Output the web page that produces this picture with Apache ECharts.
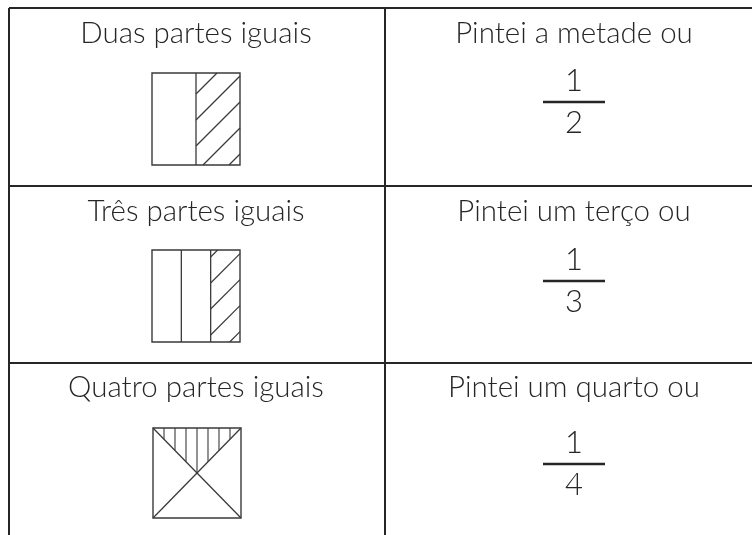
<!DOCTYPE html>
<html>
<head>
<meta charset="utf-8">
<script src="https://cdn.jsdelivr.net/npm/echarts@6/dist/echarts.min.js"></script>
<style>
html,body{margin:0;padding:0;background:#fff;}
#chart{width:752px;height:535px;}
</style>
</head>
<body>
<div id="chart"></div>
<script>
// ---- data ----
const leftLabels = ['Duas partes iguais', 'Três partes iguais', 'Quatro partes iguais'];
const rightLabels = ['Pintei a metade ou', 'Pintei um terço ou', 'Pintei um quarto ou'];
const numerators = [1, 1, 1];
const denominators = [2, 3, 4];
const partitionKinds = ['columns', 'columns', 'triangles'];
const shadedParts = [1, 1, 1];

// ---- layout (pixels in a 752x535 data space) ----
const L = {
  tableLeft: 9, tableRight: 752, midX: 385, bottom: 535,
  rowTops: [8, 186, 363],
  textDy: [25, 25, 24],
  leftCx: 196, rightCx: 574,
  boxX: [152, 152, 153], boxY: [73, 250, 428], boxW: 88, boxH: [92, 92, 90],
  barY: [102, 281, 464], barHalf: 31, numDy: -21, denDy: 21,
  hatchGap: 26, hatchPhase: [21, 7], vGap: 11
};
const ink = '#262626';
const boxInk = '#3a3a3a';
const font = 'Lato, "Open Sans", sans-serif';

function renderRow(params, api) {
  const i = api.value(0);
  const n = leftLabels.length;
  const top = L.rowTops[i];
  const bot = i < n - 1 ? L.rowTops[i + 1] : L.bottom;
  const P = (x, y) => api.coord([x, y]);
  const kids = [];
  const seg = (x1, y1, x2, y2, w, c) => {
    const a = P(x1, y1), b = P(x2, y2);
    kids.push({ type: 'line', shape: { x1: a[0], y1: a[1], x2: b[0], y2: b[1] },
      style: { stroke: c, lineWidth: w } });
  };
  const txt = (s, x, y, size, weight) => {
    const p = P(x, y);
    kids.push({ type: 'text', x: p[0], y: p[1], style: { text: String(s), fill: ink,
      font: weight + ' ' + size + 'px ' + font, textAlign: 'center', textVerticalAlign: 'middle' } });
  };
  // table lines
  seg(L.tableLeft, top, L.tableRight, top, 2, ink);
  seg(L.tableLeft, top, L.tableLeft, bot, 2, ink);
  seg(L.midX, top, L.midX, bot, 2, ink);
  // texts
  txt(leftLabels[i], L.leftCx, top + L.textDy[i], 29.5, 300);
  txt(rightLabels[i], L.rightCx, top + L.textDy[i], 29.5, 300);
  // fraction
  const by = L.barY[i];
  seg(L.rightCx - L.barHalf, by, L.rightCx + L.barHalf, by, 2.5, ink);
  txt(numerators[i], L.rightCx, by + L.numDy, 31, 300);
  txt(denominators[i], L.rightCx, by + L.denDy, 31, 300);
  // shape
  const x0 = L.boxX[i], y0 = L.boxY[i], w = L.boxW, h = L.boxH[i];
  const x1 = x0 + w, y1 = y0 + h;
  const parts = denominators[i];
  if (partitionKinds[i] === 'columns') {
    const cw = w / parts;
    for (let k = 1; k < parts; k++) seg(x0 + k * cw, y0, x0 + k * cw, y1, 1.3, boxInk);
    // shade the last column(s) with "/" hatching
    const sx0 = x1 - cw * shadedParts[i];
    const cMin = sx0 + y0, cMax = x1 + y1;
    for (let c = cMin + L.hatchPhase[i]; c < cMax; c += L.hatchGap) {
      const ax = Math.max(sx0, c - y1), bx = Math.min(x1, c - y0);
      if (bx - ax > 0.5) seg(ax, c - ax, bx, c - bx, 1.2, boxInk);
    }
  } else {
    seg(x0, y0, x1, y1, 1.3, boxInk);
    seg(x1, y0, x0, y1, 1.3, boxInk);
    // shade top triangle with vertical lines
    for (let x = x0 + L.vGap; x < x1 - 1; x += L.vGap) {
      const d = Math.min(x - x0, x1 - x) * h / w;
      seg(x, y0, x, y0 + d, 1.1, boxInk);
    }
  }
  // box outline
  const a = P(x0, y0);
  kids.push({ type: 'rect', shape: { x: a[0], y: a[1], width: w, height: h },
    style: { fill: 'none', stroke: boxInk, lineWidth: 1.4 } });
  return { type: 'group', children: kids };
}

const chart = echarts.init(document.getElementById('chart'), null, { renderer: 'canvas' });
chart.setOption({
  backgroundColor: '#ffffff',
  animation: false,
  grid: { left: 0, right: 0, top: 0, bottom: 0 },
  xAxis: { type: 'value', min: 0, max: 752, show: false },
  yAxis: { type: 'value', min: 0, max: 535, inverse: true, show: false },
  series: [{
    type: 'custom',
    renderItem: renderRow,
    data: leftLabels.map((_, i) => [i]),
    encode: { x: 0 },
    clip: false,
    silent: true
  }]
});
</script>
</body>
</html>
